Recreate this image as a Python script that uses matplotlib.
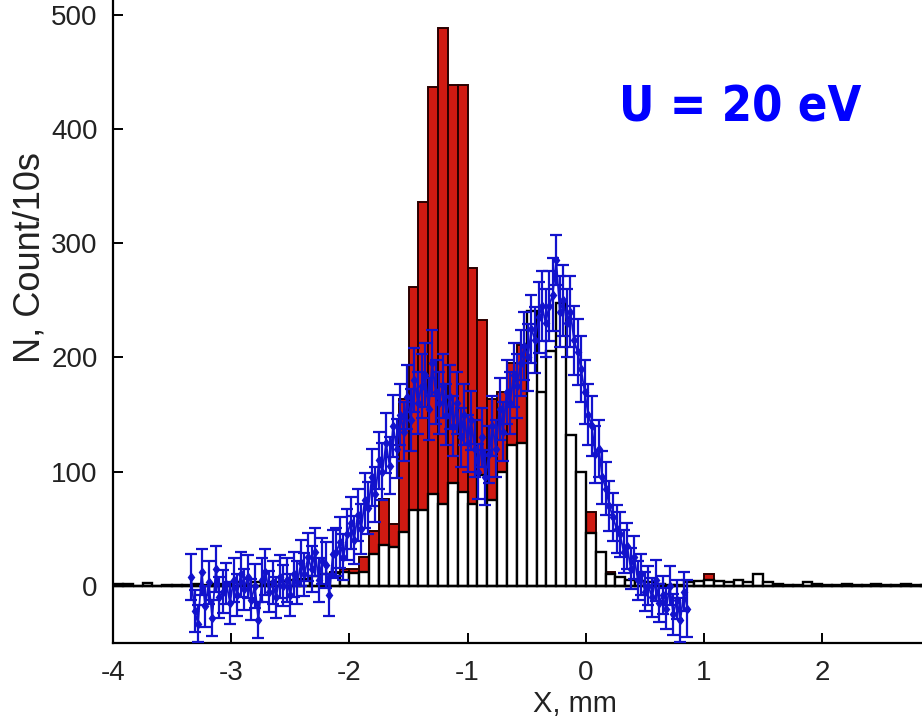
import numpy as np
import matplotlib
matplotlib.use("Agg")
import matplotlib.pyplot as plt

# ---------------- data ----------------
# histogram bins: 1/12 mm wide from -4 to 3 mm
bin_edges = np.linspace(-4.0, 3.0, 85)

white_counts = [1.5, 1.5, 0, 2.5, 0, 1, 1, 1, 2, 1,
                2, 1, 3, 2, 3, 2, 3, 4, 5, 6,
                9, 10, 11, 12, 11, 12, 28, 36, 34, 47,
                66, 66, 80, 72, 90, 82, 72, 97, 75, 100,
                123, 125, 241, 170, 206, 248, 132, 100, 46, 30,
                10, 8, 5, 4, 3, 2, 1, 1, 3, 4,
                5, 4, 3, 5, 3, 10, 3, 2, 1, 1,
                3, 2, 1, 1, 2, 1, 0.5, 2, 1, 0.5,
                2, 1, 1, 1]

red_counts = [0, 0, 0, 0, 0, 0, 0, 0, 0, 0,
              0, 0, 0, 0, 0, 0, 0, 0, 0, 0,
              0, 10, 12, 15, 15, 25, 48, 76, 54, 164,
              262, 336, 437, 488, 438, 438, 278, 233, 164, 170,
              195, 211, 200, 150, 180, 200, 100, 80, 65, 25,
              12, 6, 3, 2, 1, 1, 0, 0, 2, 3,
              10, 4, 3, 5, 2, 3, 2, 1, 0, 0,
              1, 1, 0, 0, 1, 0, 0, 1, 0, 0,
              1, 0, 0, 0]

# measured profile (blue points with error bars)
meas_x = np.linspace(-3.34, 0.86, 141)
meas_y = [8, -22, -33, 12, -18, 3, -28, 15, -10, -5, 2,
          -15, 5, -8, 10, -3, 8, -12, 0, -30, 5,
          12, -5, 3, -10, 8, 0, 5, -8, 10, 3,
          20, 10, 25, 15, 30, 5, 22, 18, -8, 28,
          30, 38, 25, 45, 55, 40, 62, 50, 75, 68,
          95, 80, 110, 100, 125, 105, 140, 120, 150, 135,
          165, 145, 180, 160, 175, 185, 155, 195, 170, 160,
          175, 150, 165, 140, 160, 130, 150, 125, 145, 120,
          100, 130, 95, 115, 140, 120, 155, 135, 170, 160,
          185, 175, 195, 210, 200, 225, 215, 235, 245, 230,
          245, 255, 285, 240, 250, 230, 240, 215, 205, 190,
          170, 150, 140, 115, 120, 95, 85, 70, 60, 50,
          45, 30, 35, 15, 25, 5, 10, -5, 0, -10,
          5, -15, -8, -20, 0, -25, -12, -30, -5, -20]
meas_err = [20, 18, 16, 20, 18, 19, 16, 20, 18, 19, 18,
            18, 19, 18, 20, 18, 19, 18, 19, 16, 19,
            20, 18, 19, 18, 19, 18, 19, 18, 20, 19,
            20, 19, 21, 20, 21, 19, 20, 20, 18, 21,
            21, 22, 20, 22, 23, 21, 23, 22, 24, 23,
            25, 24, 25, 25, 26, 25, 27, 26, 27, 26,
            28, 27, 28, 27, 28, 28, 27, 29, 28, 27,
            28, 27, 28, 26, 27, 26, 27, 25, 26, 25,
            24, 26, 24, 25, 26, 25, 27, 26, 28, 27,
            28, 28, 29, 30, 29, 30, 29, 31, 31, 30,
            31, 32, 22, 31, 31, 30, 31, 30, 29, 29,
            28, 27, 26, 25, 25, 23, 23, 22, 21, 21,
            20, 19, 20, 18, 19, 17, 18, 17, 17, 17,
            18, 17, 17, 18, 17, 18, 17, 19, 17, 25]

x_ticks = [-4, -3, -2, -1, 0, 1, 2]
y_ticks = [0, 100, 200, 300, 400, 500]

# ---------------- plot ----------------
font = ['Liberation Sans', 'DejaVu Sans']

W, H = 922, 724
fig = plt.figure(figsize=(W / 100, H / 100), dpi=100)
ax = fig.add_axes([113 / W, 81 / H, 945.6 / W, 742.6 / H])

centers = 0.5 * (bin_edges[:-1] + bin_edges[1:])
width = bin_edges[1] - bin_edges[0]

ax.bar(centers, red_counts, width=width, color='#d01a12', edgecolor='#2a0000',
       linewidth=1.4, zorder=2)
ax.bar(centers, white_counts, width=width, color='white', edgecolor='black',
       linewidth=1.7, zorder=3)
ax.axhline(0, color='black', linewidth=1.7, zorder=4)

ax.errorbar(meas_x, meas_y, yerr=meas_err, fmt='-d', color='#1212cc',
            markersize=4.5, linewidth=1.3, elinewidth=1.6, capsize=4.5,
            capthick=1.6, zorder=5)

ax.set_xlim(-4, 4)
ax.set_ylim(-50, 600)
ax.set_xticks(x_ticks)
ax.set_yticks(y_ticks)
ax.set_xticklabels([str(v) for v in x_ticks])
ax.set_yticklabels([str(v) for v in y_ticks])
ax.tick_params(direction='in', length=7, width=1.4, colors='black')
ax.tick_params(axis='x', pad=12)
ax.tick_params(axis='y', pad=11)
for lab in ax.get_xticklabels() + ax.get_yticklabels():
    lab.set_family(font)
    lab.set_fontsize(20)
    lab.set_color('#222222')
for sp in ax.spines.values():
    sp.set_linewidth(1.6)

fig.text(575 / W, 1 - 704 / H, 'X, mm', ha='center', va='center',
         fontsize=21, family=font, color='#222222')
fig.text(30 / W, 1 - 258 / H, 'N, Count/10s', ha='center', va='center',
         rotation=90, fontsize=26, family=font, color='#222222')
fig.text(740 / W, 1 - 108 / H, 'U = 20 eV', ha='center', va='center',
         fontsize=35, fontweight='bold', color='#0000ff',
         family=['DejaVu Sans'], fontstretch='condensed')

fig.savefig('out.png', dpi=100)
